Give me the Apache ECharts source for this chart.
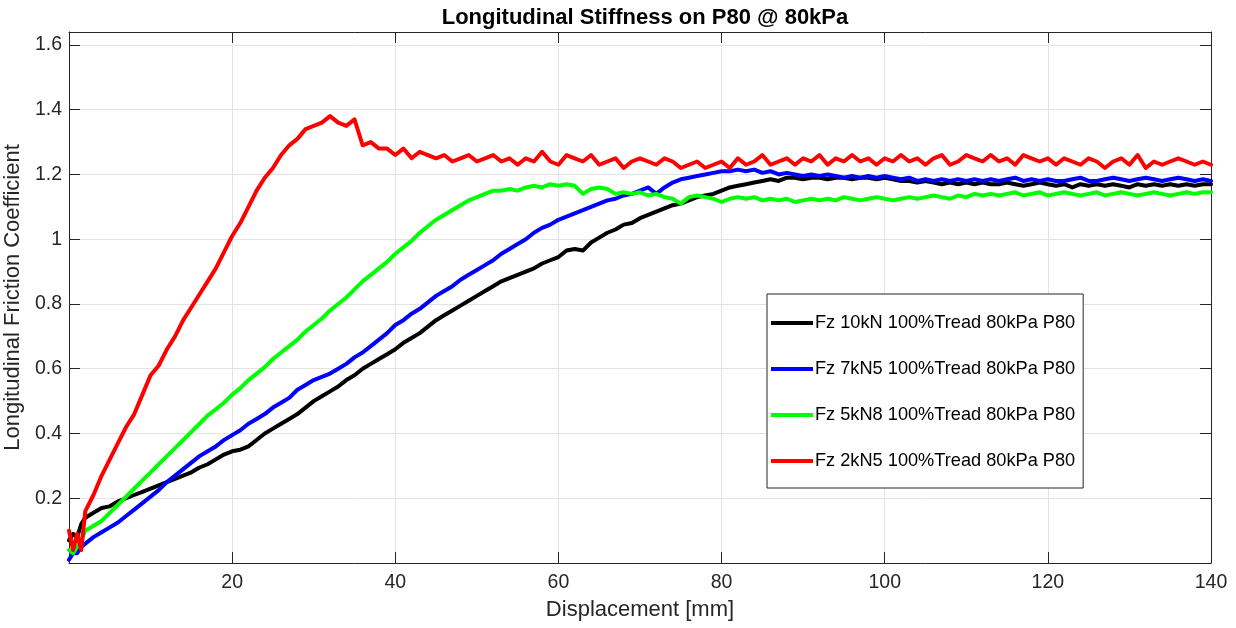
<!DOCTYPE html>
<html>
<head>
<meta charset="utf-8">
<script src="https://cdn.jsdelivr.net/npm/echarts@6/dist/echarts.min.js"></script>
<style>
html,body{margin:0;padding:0;background:#fff;}
#chart{width:1236px;height:628px;}
</style>
</head>
<body>
<div id="chart"></div>
<script>
// Displacement [mm]
const displacement = [0,0.5,1,1.5,2,3,4,5,6,7,8,9,10,11,12,13,14,15,16,17,18,19,20,21,22,23,24,25,26,27,28,29,30,31,32,33,34,35,36,37,38,39,40,41,42,43,44,45,46,47,48,49,50,51,52,53,54,55,56,57,58,59,60,61,62,63,64,65,66,67,68,69,70,71,72,73,74,75,76,77,78,79,80,81,82,83,84,85,86,87,88,89,90,91,92,93,94,95,96,97,98,99,100,101,102,103,104,105,106,107,108,109,110,111,112,113,114,115,116,117,118,119,120,121,122,123,124,125,126,127,128,129,130,131,132,133,134,135,136,137,138,139,140];

const seriesNames = ['Fz 10kN 100%Tread 80kPa P80','Fz 7kN5 100%Tread 80kPa P80','Fz 5kN8 100%Tread 80kPa P80','Fz 2kN5 100%Tread 80kPa P80'];

const fz10kN = [0.07,0.09,0.08,0.12,0.14,0.155,0.17,0.175,0.19,0.20,0.21,0.22,0.23,0.24,0.25,0.26,0.27,0.28,0.295,0.305,0.32,0.335,0.345,0.35,0.36,0.38,0.40,0.415,0.43,0.445,0.46,0.48,0.50,0.515,0.53,0.545,0.565,0.58,0.60,0.615,0.63,0.645,0.66,0.68,0.695,0.71,0.73,0.75,0.765,0.78,0.795,0.81,0.825,0.84,0.855,0.87,0.88,0.89,0.90,0.91,0.925,0.935,0.945,0.965,0.97,0.965,0.99,1.005,1.02,1.03,1.045,1.05,1.065,1.075,1.085,1.095,1.105,1.11,1.12,1.13,1.135,1.14,1.15,1.16,1.165,1.17,1.175,1.18,1.185,1.18,1.19,1.19,1.185,1.19,1.19,1.185,1.19,1.19,1.185,1.19,1.19,1.185,1.19,1.185,1.18,1.18,1.175,1.18,1.175,1.17,1.175,1.17,1.175,1.17,1.175,1.17,1.17,1.175,1.17,1.165,1.17,1.175,1.17,1.165,1.17,1.16,1.17,1.165,1.17,1.165,1.17,1.165,1.16,1.17,1.165,1.17,1.165,1.17,1.165,1.17,1.165,1.17,1.17];

const fz7kN5 = [0.01,0.03,0.03,0.05,0.06,0.08,0.095,0.11,0.125,0.145,0.165,0.185,0.205,0.225,0.25,0.27,0.29,0.31,0.33,0.345,0.36,0.38,0.395,0.41,0.43,0.445,0.46,0.48,0.495,0.51,0.535,0.55,0.565,0.575,0.585,0.60,0.615,0.635,0.65,0.67,0.69,0.71,0.735,0.75,0.77,0.785,0.805,0.825,0.84,0.855,0.875,0.89,0.905,0.92,0.935,0.955,0.97,0.985,1.00,1.02,1.035,1.045,1.06,1.07,1.08,1.09,1.10,1.11,1.12,1.125,1.135,1.14,1.15,1.16,1.14,1.16,1.175,1.185,1.19,1.195,1.20,1.205,1.21,1.21,1.215,1.21,1.215,1.205,1.21,1.20,1.205,1.20,1.195,1.20,1.195,1.20,1.195,1.19,1.195,1.19,1.195,1.19,1.195,1.19,1.185,1.19,1.18,1.185,1.18,1.185,1.18,1.185,1.18,1.185,1.18,1.185,1.18,1.185,1.19,1.18,1.185,1.18,1.185,1.18,1.18,1.185,1.19,1.18,1.18,1.185,1.19,1.185,1.18,1.185,1.19,1.185,1.18,1.185,1.19,1.185,1.18,1.185,1.18];

const fz5kN8 = [0.04,0.03,0.05,0.07,0.10,0.115,0.13,0.155,0.18,0.205,0.23,0.255,0.28,0.305,0.33,0.355,0.38,0.405,0.43,0.455,0.475,0.495,0.52,0.54,0.565,0.585,0.605,0.63,0.65,0.67,0.69,0.715,0.735,0.755,0.78,0.80,0.82,0.845,0.87,0.89,0.91,0.93,0.955,0.975,0.995,1.02,1.04,1.06,1.075,1.09,1.105,1.12,1.13,1.14,1.15,1.15,1.155,1.15,1.16,1.165,1.16,1.17,1.165,1.17,1.165,1.14,1.155,1.16,1.155,1.14,1.145,1.14,1.145,1.135,1.14,1.13,1.125,1.11,1.13,1.135,1.13,1.125,1.115,1.125,1.13,1.125,1.13,1.12,1.125,1.12,1.125,1.115,1.12,1.125,1.12,1.125,1.12,1.13,1.125,1.12,1.125,1.13,1.125,1.12,1.125,1.13,1.125,1.13,1.135,1.13,1.125,1.135,1.13,1.14,1.135,1.14,1.135,1.14,1.145,1.135,1.14,1.145,1.135,1.14,1.145,1.14,1.135,1.14,1.145,1.135,1.14,1.145,1.14,1.135,1.14,1.145,1.14,1.135,1.14,1.145,1.14,1.145,1.145];

const fz2kN5 = [0.10,0.04,0.09,0.04,0.16,0.21,0.27,0.32,0.37,0.42,0.46,0.52,0.58,0.61,0.66,0.70,0.75,0.79,0.83,0.87,0.91,0.96,1.01,1.05,1.10,1.15,1.19,1.22,1.26,1.29,1.31,1.34,1.35,1.36,1.38,1.36,1.35,1.37,1.29,1.30,1.28,1.28,1.26,1.28,1.25,1.27,1.26,1.25,1.26,1.24,1.25,1.26,1.24,1.25,1.26,1.24,1.25,1.23,1.25,1.24,1.27,1.24,1.23,1.26,1.25,1.24,1.26,1.23,1.24,1.25,1.22,1.24,1.25,1.24,1.23,1.25,1.24,1.22,1.23,1.24,1.22,1.23,1.24,1.22,1.25,1.23,1.24,1.26,1.23,1.24,1.25,1.23,1.25,1.24,1.26,1.23,1.25,1.24,1.26,1.24,1.25,1.23,1.25,1.24,1.26,1.24,1.25,1.23,1.25,1.26,1.23,1.24,1.26,1.25,1.24,1.26,1.24,1.25,1.23,1.26,1.25,1.24,1.25,1.23,1.25,1.24,1.23,1.25,1.24,1.22,1.24,1.25,1.23,1.26,1.22,1.24,1.23,1.24,1.25,1.24,1.23,1.24,1.23];

const seriesValues = [fz10kN, fz7kN5, fz5kN8, fz2kN5];
const seriesColors = ['#000000', '#0000ff', '#00ff00', '#ff0000'];

const FONT = 'Liberation Sans, Arial, sans-serif';
const chart = echarts.init(document.getElementById('chart'), null, {renderer: 'canvas'});

function pair(vals) { return displacement.map((x, i) => [x, vals[i]]); }
function fmt(v) { if (Math.abs(v) < 1e-9) return ''; return String(parseFloat(v.toFixed(2))); }

const axisLineStyle = {color: '#262626', width: 1};
const option = {
  animation: false,
  backgroundColor: '#ffffff',
  title: {
    text: 'Longitudinal Stiffness on P80 @ 80kPa',
    left: 640, top: 2, textAlign: 'center',
    textStyle: {fontFamily: FONT, fontSize: 22, fontWeight: 'bold', color: '#000'}
  },
  grid: {left: 69, right: 25, top: 32, bottom: 65, containLabel: false, outerBoundsMode: 'none'},
  legend: {
    orient: 'vertical', left: 767, top: 294,
    data: seriesNames.map(n => ({name: n, icon: 'rect'})),
    itemWidth: 42, itemHeight: 4, itemGap: 24,
    padding: [18, 8, 16, 4],
    borderColor: '#262626', borderWidth: 1, backgroundColor: '#ffffff',
    textStyle: {fontFamily: FONT, fontSize: 18.2, color: '#000', lineHeight: 22, padding: [0,0,0,-3]},
    selectedMode: false
  },
  xAxis: [{
    type: 'value', min: 0, max: 140, interval: 20,
    name: 'Displacement [mm]', nameLocation: 'middle', nameGap: 36,
    nameTextStyle: {fontFamily: FONT, fontSize: 22, color: '#262626'},
    axisLine: {show: true, onZero: false, lineStyle: axisLineStyle},
    axisTick: {show: true, inside: true, length: 11, lineStyle: axisLineStyle},
    axisLabel: {fontFamily: FONT, fontSize: 19.5, color: '#262626', margin: 10, formatter: fmt},
    splitLine: {show: true, lineStyle: {color: '#e3e3e3', width: 1}}
  }, {
    type: 'value', position: 'top', min: 0, max: 140, interval: 20,
    axisLine: {show: true, onZero: false, lineStyle: axisLineStyle},
    axisTick: {show: true, inside: true, length: 11, lineStyle: axisLineStyle},
    axisLabel: {show: false}, splitLine: {show: false}
  }],
  yAxis: [{
    type: 'value', min: 0, max: 1.64, interval: 0.2,
    name: 'Longitudinal Friction Coefficient', nameLocation: 'middle', nameGap: 40, nameRotate: 90,
    nameTextStyle: {fontFamily: FONT, fontSize: 22, color: '#262626'},
    axisLine: {show: true, onZero: false, lineStyle: axisLineStyle},
    axisTick: {show: true, inside: true, length: 11, lineStyle: axisLineStyle},
    axisLabel: {fontFamily: FONT, fontSize: 19.5, color: '#262626', margin: 7, formatter: fmt, showMaxLabel: false},
    splitLine: {show: true, lineStyle: {color: '#e3e3e3', width: 1}}
  }, {
    type: 'value', position: 'right', min: 0, max: 1.64, interval: 0.2,
    axisLine: {show: true, onZero: false, lineStyle: axisLineStyle},
    axisTick: {show: true, inside: true, length: 11, lineStyle: axisLineStyle},
    axisLabel: {show: false}, splitLine: {show: false}
  }],
  series: seriesNames.map((n, i) => ({
    name: n, type: 'line', xAxisIndex: 0, yAxisIndex: 0,
    data: pair(seriesValues[i]),
    showSymbol: false, symbol: 'none', smooth: false,
    color: seriesColors[i],
    lineStyle: {color: seriesColors[i], width: 4, join: 'round', cap: 'round'},
    itemStyle: {color: seriesColors[i]},
    z: 2 + i
  }))
};
chart.setOption(option);
</script>
</body>
</html>
